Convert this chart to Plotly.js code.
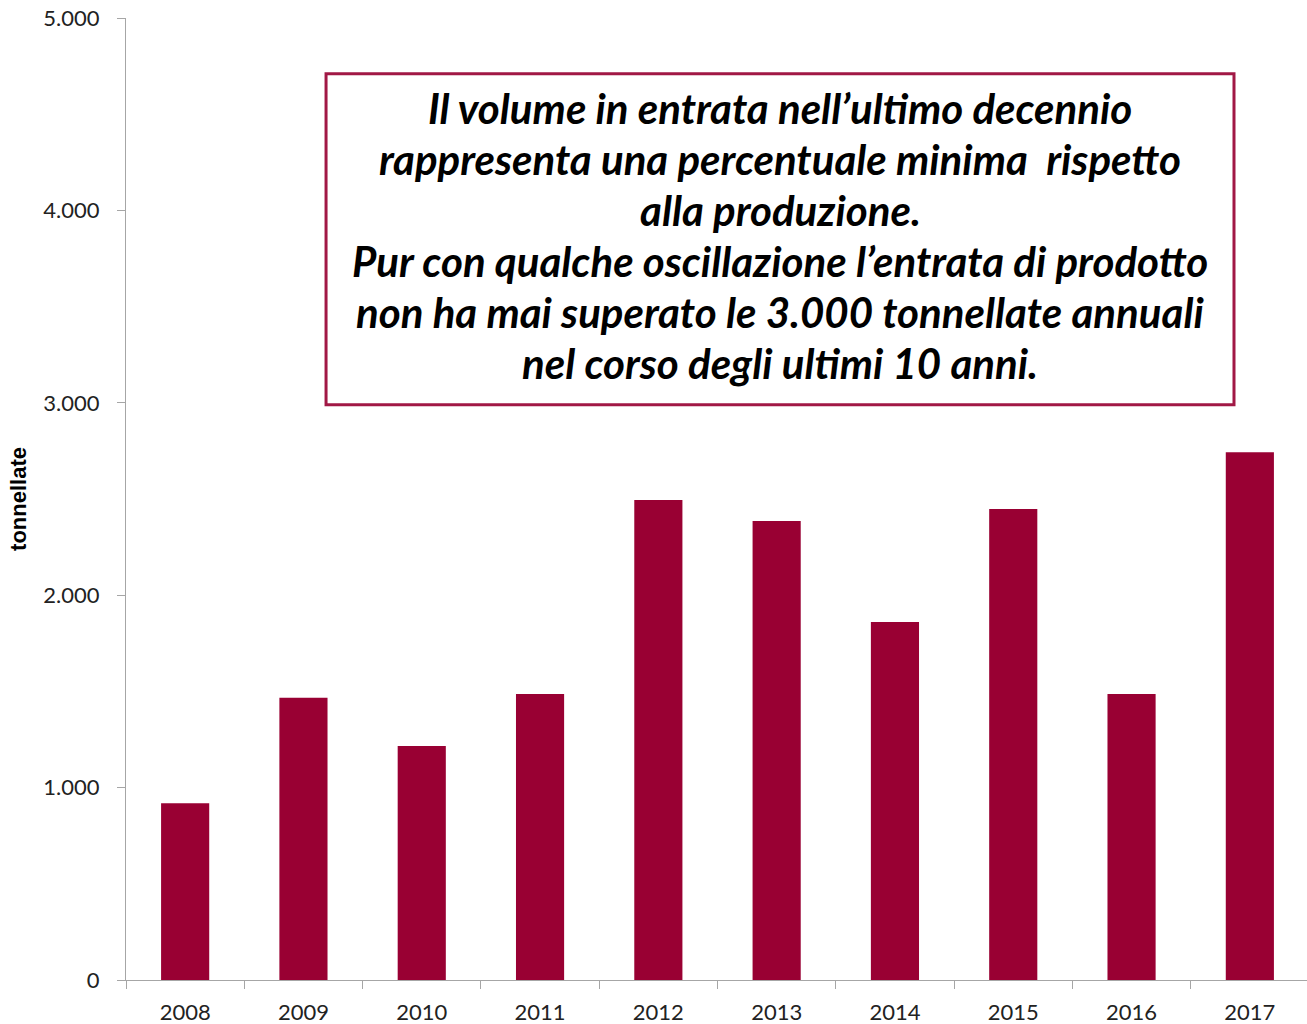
<!DOCTYPE html>
<html>
<head>
<meta charset="utf-8">
<script src="https://cdn.plot.ly/plotly-3.0.1.min.js"></script>
<style>
html,body{margin:0;padding:0;background:#fff;overflow:hidden;}
#chart{width:1309px;height:1024px;}
</style>
</head>
<body>
<div id="chart"></div>
<script>
const years = ["2008","2009","2010","2011","2012","2013","2014","2015","2016","2017"];
const tonnellate = [919, 1467, 1216, 1487, 2495, 2386, 1861, 2448, 1487, 2743];
const yTicks = [0, 1000, 2000, 3000, 4000, 5000];
const yTickLabels = ["0", "1.000", "2.000", "3.000", "4.000", "5.000"];
const yTitle = "tonnellate";
const noteLines = [
  "Il volume in entrata nell’ultimo decennio",
  "rappresenta una percentuale minima  rispetto",
  "alla produzione.",
  "Pur con qualche oscillazione l’entrata di prodotto",
  "non ha mai superato le 3.000 tonnellate annuali",
  "nel corso degli ultimi 10 anni."
];

const barColor = "#990033";
const boxColor = "#A11845";
const axisColor = "#A6A6A6";
const tickFont = {family: "Lato, 'Open Sans', sans-serif", size: 22, color: "#222"};

// note box geometry (paper coords)
const boxX0 = 0.1691, boxX1 = 0.9366, boxY0 = 0.5981, boxY1 = 0.9421;
const lineTop = 0.9062, lineStep = 0.0530;

const annotations = noteLines.map((t, i) => ({
  xref: "paper", yref: "paper",
  x: (boxX0 + boxX1) / 2,
  y: lineTop - i * lineStep,
  xanchor: "center", yanchor: "middle",
  text: "<b><i>" + t + "</i></b>",
  showarrow: false,
  font: {family: "Lato, 'Open Sans', sans-serif", size: 42, color: "#000"}
}));

const data = [{
  type: "bar",
  x: years,
  y: tonnellate,
  marker: {color: barColor, line: {width: 0}},
  hoverinfo: "x+y"
}];

const layout = {
  width: 1309, height: 1024,
  margin: {l: 126, r: 0, t: 18, b: 44, pad: 0},
  paper_bgcolor: "#fff", plot_bgcolor: "#fff",
  separators: ",.",
  showlegend: false,
  bargap: 0.593,
  xaxis: {
    type: "category",
    showgrid: false, zeroline: false,
    showline: true, linecolor: axisColor, linewidth: 1,
    ticks: "outside", tickson: "boundaries", ticklen: 8, tickcolor: axisColor, tickwidth: 1,
    ticklabelstandoff: 13,
    tickfont: tickFont,
    fixedrange: true
  },
  yaxis: {
    range: [0, 5000],
    tickvals: yTicks, ticktext: yTickLabels,
    showgrid: false, zeroline: false,
    showline: true, linecolor: axisColor, linewidth: 1,
    ticks: "outside", ticklen: 8, tickcolor: axisColor, tickwidth: 1,
    ticklabelstandoff: 13,
    tickfont: tickFont,
    title: {text: "<b>" + yTitle + "</b>", font: {family: "'Liberation Sans', Arial, sans-serif", size: 22, color: "#000"}, standoff: 10},
    fixedrange: true
  },
  shapes: [{
    type: "rect", xref: "paper", yref: "paper",
    x0: boxX0, x1: boxX1, y0: boxY0, y1: boxY1,
    line: {color: boxColor, width: 3},
    fillcolor: "#fff", layer: "above"
  }],
  annotations: annotations
};

Plotly.newPlot("chart", data, layout, {displayModeBar: false, staticPlot: true});
</script>
</body>
</html>
